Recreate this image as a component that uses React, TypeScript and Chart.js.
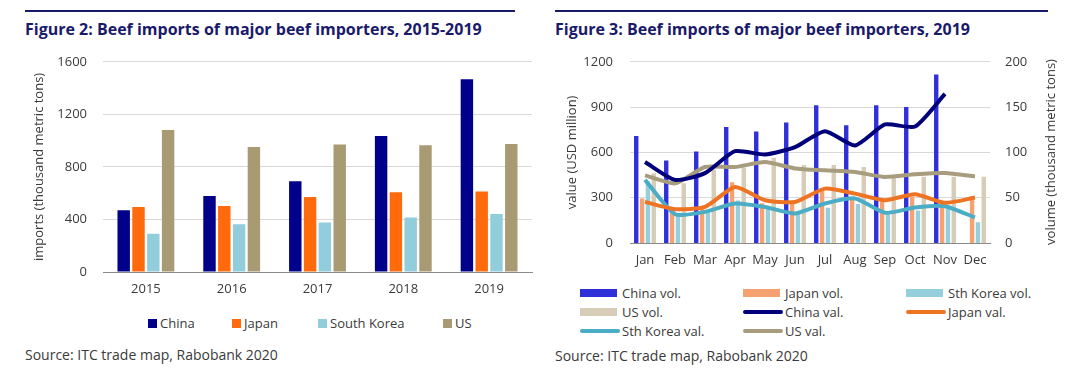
import React, { useEffect, useRef } from "react";
import { Chart, registerables } from "chart.js";
Chart.register(...registerables);

// ---------- Figure 2 data ----------
const years = ["2015", "2016", "2017", "2018", "2019"];
const chinaImports = [470, 579, 691, 1036, 1468];
const japanImports = [495, 503, 571, 607, 612];
const koreaImports = [292, 363, 376, 414, 442];
const usImports = [1080, 952, 970, 965, 975];
const importTicks = [0, 400, 800, 1200, 1600];

// ---------- Figure 3 data ----------
const months = ["Jan", "Feb", "Mar", "Apr", "May", "Jun", "Jul", "Aug", "Sep", "Oct", "Nov", "Dec"];
const chinaVol = [118, 91, 101, 128, 123, 133, 152, 130, 152, 150, 186, null];
const japanVol = [49, 38, 40, 67, 44, 45, 60, 49, 48, 51, 46, 51];
const koreaVol = [68, 33, 34, 47, 40, 33, 39, 43, 33, 36, 40, 23];
const usVol = [77, 66, 81, 83, 94, 86, 86, 84, 74, 73, 73, 73];
const chinaVal = [536, 418, 463, 608, 586, 635, 740, 646, 785, 771, 987, null];
const japanVal = [272, 224, 239, 371, 283, 272, 360, 327, 283, 323, 266, 301];
const koreaVal = [418, 191, 206, 262, 239, 196, 262, 295, 200, 235, 244, 169];
const usVal = [448, 395, 503, 503, 536, 494, 481, 470, 437, 455, 464, 441];

const FONT = "'Open Sans', 'Noto Sans', sans-serif";
const TEXT = "#3a3a3a";
const NAVY = "#1a1a6b";

const fig2Series = [
  { label: "China", data: chinaImports, color: "#00008b" },
  { label: "Japan", data: japanImports, color: "#ff6a0d" },
  { label: "South Korea", data: koreaImports, color: "#92cddc" },
  { label: "US", data: usImports, color: "#a89b74" },
];

const fig3Bars = [
  { label: "China vol.", data: chinaVol, color: "#3030d8" },
  { label: "Japan vol.", data: japanVol, color: "#f5a270" },
  { label: "Sth Korea vol.", data: koreaVol, color: "#95cfdc" },
  { label: "US vol.", data: usVol, color: "#d6ccb7" },
];
const fig3Lines = [
  { label: "China val.", data: chinaVal, color: "#00007a" },
  { label: "Japan val.", data: japanVal, color: "#ee7424" },
  { label: "Sth Korea val.", data: koreaVal, color: "#4bacc6" },
  { label: "US val.", data: usVal, color: "#a89c7e" },
];

const plainNum = (v: any) => String(v);

function Fig2() {
  const ref = useRef<HTMLCanvasElement>(null);
  useEffect(() => {
    const chart = new Chart(ref.current as HTMLCanvasElement, {
      type: "bar",
      data: {
        labels: years,
        datasets: fig2Series.map((s) => ({
          label: s.label,
          data: s.data,
          backgroundColor: s.color,
          barPercentage: 0.84,
          categoryPercentage: 0.69,
        })),
      },
      options: {
        responsive: false,
        animation: false,
        layout: { padding: { left: 27, top: 0, right: 8, bottom: 0 } },
        plugins: { legend: { display: false }, tooltip: { enabled: false } },
        scales: {
          x: {
            grid: { display: false, drawTicks: false },
            border: { display: true, color: "#8a8a8a", width: 1 },
            ticks: { color: TEXT, font: { family: FONT, size: 13 }, padding: 9 },
            afterFit: (s: any) => { s.height = 28; },
          },
          y: {
            min: 0,
            max: 1600,
            afterBuildTicks: (s: any) => { s.ticks = importTicks.map((v) => ({ value: v })); },
            ticks: { color: TEXT, font: { family: FONT, size: 13 }, padding: 16, callback: plainNum },
            grid: { color: "#d9d9d9", drawTicks: false },
            border: { display: false },
            title: {
              display: true,
              text: "imports (thousand metric tons)",
              color: TEXT,
              font: { family: FONT, size: 13 },
              padding: { top: 4, bottom: 0 },
            },
            afterFit: (s: any) => { s.width = 76; },
          },
        },
      },
    });
    return () => chart.destroy();
  }, []);
  return <canvas ref={ref} width={540} height={262} style={{ position: "absolute", left: 0, top: 38, width: 540, height: 262 }} />;
}

function Fig3() {
  const ref = useRef<HTMLCanvasElement>(null);
  useEffect(() => {
    const lineSets = fig3Lines.map((s, i) => ({
      type: "line" as const,
      label: s.label,
      data: s.data,
      borderColor: s.color,
      backgroundColor: s.color,
      borderWidth: 4,
      pointRadius: 0,
      tension: 0.2,
      borderJoinStyle: "round" as const,
      yAxisID: "y",
      order: i + 1,
    }));
    const barSets = fig3Bars.map((s, i) => ({
      type: "bar" as const,
      label: s.label,
      data: s.data,
      backgroundColor: s.color,
      barPercentage: 0.75,
      categoryPercentage: 0.78,
      yAxisID: "y2",
      order: i + 10,
    }));
    const chart = new Chart(ref.current as HTMLCanvasElement, {
      type: "bar",
      data: { labels: months, datasets: [...barSets, ...lineSets] as any },
      options: {
        responsive: false,
        animation: false,
        layout: { padding: { left: 20, top: 0, right: 18, bottom: 0 } },
        plugins: { legend: { display: false }, tooltip: { enabled: false } },
        scales: {
          x: {
            grid: { display: false, drawTicks: false },
            border: { display: true, color: "#8a8a8a", width: 1 },
            ticks: { color: TEXT, font: { family: FONT, size: 13 }, padding: 9, maxRotation: 0, minRotation: 0, autoSkip: false },
            afterFit: (s: any) => { s.height = 37; },
          },
          y: {
            position: "left",
            min: 0,
            max: 1200,
            ticks: { stepSize: 300, color: TEXT, font: { family: FONT, size: 13 }, padding: 17, callback: plainNum },
            grid: { color: "#d9d9d9", drawTicks: false },
            border: { display: false },
            title: {
              display: true,
              text: "value (USD million)",
              color: TEXT,
              font: { family: FONT, size: 13 },
              padding: { top: 4, bottom: 0 },
            },
            afterFit: (s: any) => { s.width = 70; },
          },
          y2: {
            position: "right",
            min: 0,
            max: 200,
            ticks: { stepSize: 50, color: TEXT, font: { family: FONT, size: 13 }, padding: 15, callback: plainNum },
            grid: { display: false, drawTicks: false },
            border: { display: false },
            afterFit: (s: any) => { s.width = 72; },
          },
        },
      },
    });
    return () => chart.destroy();
  }, []);
  return <canvas ref={ref} width={540} height={243} style={{ position: "absolute", left: 540, top: 37, width: 540, height: 243 }} />;
}

const titleStyle: React.CSSProperties = {
  position: "absolute",
  top: 18,
  fontFamily: FONT,
  fontWeight: 700,
  fontSize: 16,
  color: NAVY,
  whiteSpace: "nowrap",
  lineHeight: "22px",
};
const textStyle: React.CSSProperties = {
  fontFamily: FONT,
  fontSize: 13,
  color: TEXT,
  whiteSpace: "nowrap",
  lineHeight: "18px",
};

export default function App() {
  const fig2LegendX = [148, 232, 318, 443];
  const fig3ColX = [580, 743, 906];
  const fig3RowY = [293, 312, 331];
  const fig3Items = [...fig3Bars.map((b) => ({ ...b, kind: "bar" })), ...fig3Lines.map((l) => ({ ...l, kind: "line" }))];
  return (
    <div style={{ position: "absolute", left: 0, top: 0, width: 1080, height: 375, background: "#fff", overflow: "hidden" }}>
      <div style={{ position: "absolute", left: 25, top: 10, width: 490, height: 2, background: NAVY }} />
      <div style={{ position: "absolute", left: 555, top: 10, width: 493, height: 2, background: NAVY }} />
      <div style={{ ...titleStyle, left: 25 }}>Figure 2: Beef imports of major beef importers, 2015-2019</div>
      <div style={{ ...titleStyle, left: 555 }}>Figure 3: Beef imports of major beef importers, 2019</div>
      <Fig2 />
      <Fig3 />
      {fig2Series.map((s, i) => (
        <div key={s.label} style={{ ...textStyle, position: "absolute", left: fig2LegendX[i], top: 314, display: "flex", alignItems: "center" }}>
          <span style={{ display: "inline-block", width: 9, height: 9, background: s.color, marginRight: 3 }} />
          {s.label}
        </div>
      ))}
      {fig3Items.map((it, i) => {
        const x = fig3ColX[i % 3];
        const y = fig3RowY[Math.floor(i / 3)];
        return (
          <div key={it.label} style={{ ...textStyle, position: "absolute", left: x, top: y - 9, display: "flex", alignItems: "center" }}>
            <span
              style={{
                display: "inline-block",
                width: it.kind === "bar" ? 37 : 40,
                height: it.kind === "bar" ? 8 : 4,
                borderRadius: it.kind === "bar" ? 0 : 2,
                background: it.color,
                marginRight: it.kind === "bar" ? 5 : 2,
              }}
            />
            {it.label}
          </div>
        );
      })}
      <div
        style={{
          ...textStyle,
          position: "absolute",
          left: 1050 - 110,
          top: 152 - 9,
          width: 220,
          textAlign: "center",
          transform: "rotate(-90deg)",
          transformOrigin: "50% 50%",
        }}
      >
        volume (thousand metric tons)
      </div>
      <div style={{ ...textStyle, fontSize: 14, position: "absolute", left: 25, top: 346 }}>Source: ITC trade map, Rabobank 2020</div>
      <div style={{ ...textStyle, fontSize: 14, position: "absolute", left: 555, top: 347 }}>Source: ITC trade map, Rabobank 2020</div>
    </div>
  );
}
